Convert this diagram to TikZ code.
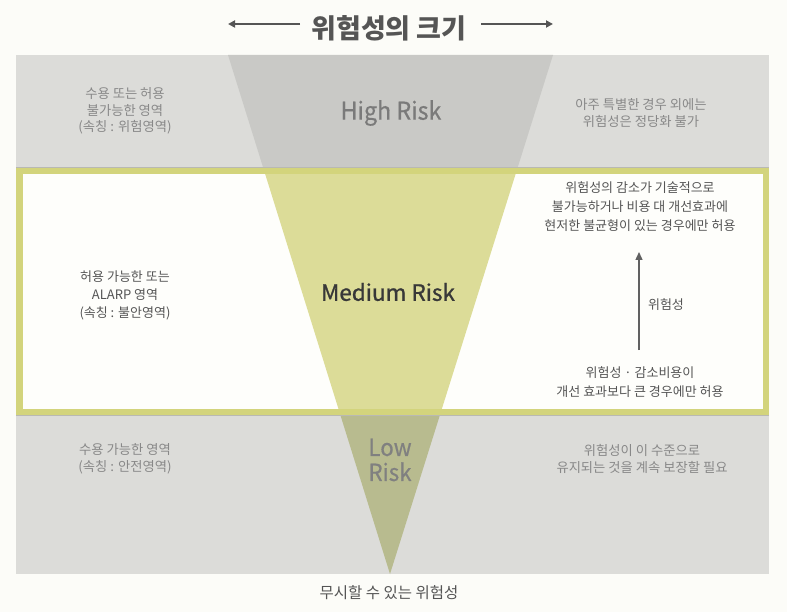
\documentclass[tikz,border=0pt]{standalone}
\usepackage{fontspec}
\setmainfont{Noto Sans CJK KR}
\newfontfamily\latinf[FakeBold=0.5,FakeStretch=0.95]{Noto Sans CJK KR}
\newfontfamily\medf[FakeBold=1.0]{Noto Sans CJK KR}
\usetikzlibrary{arrows.meta}
\definecolor{bgc}{HTML}{FCFCF8}
\definecolor{bandc}{HTML}{DCDCD9}
\definecolor{highc}{HTML}{C9C9C6}
\definecolor{greenc}{HTML}{D3D47C}
\definecolor{medc}{HTML}{DCDC98}
\definecolor{lowc}{HTML}{B8BB8F}
\definecolor{innerc}{HTML}{FEFEFB}
\definecolor{linec}{HTML}{B9B9B3}
\definecolor{grayt}{HTML}{888888}
\definecolor{darkt}{HTML}{555555}
\tikzset{
  graytxt/.style={text=grayt, align=center, inner sep=0pt, font=\fontsize{13.3}{16.5}\selectfont},
  darktxt/.style={text=darkt, align=center, inner sep=0pt, font=\fontsize{13}{18}\selectfont},
  risktxt/.style={inner sep=0pt, align=center},
  arr/.style={-{Triangle[length=7pt,width=7pt]}, line width=1.6pt, draw=darkt},
}
\begin{document}
\begin{tikzpicture}[x=1pt,y=-1pt]
\useasboundingbox (0,0) rectangle (787,612);
\fill[bgc] (0,0) rectangle (787,612);
\fill[bandc] (16,55) rectangle (769,574);
\begin{scope}
  \clip (16,55) rectangle (769,168);
  \fill[highc] (228,55) -- (553,55) -- (390,574) -- cycle;
\end{scope}
\fill[innerc] (16,168) rectangle (769,415);
\begin{scope}
  \clip (16,168) rectangle (769,415);
  \fill[medc] (228,55) -- (553,55) -- (390,574) -- cycle;
\end{scope}
\begin{scope}
  \clip (16,415) rectangle (769,574);
  \fill[lowc] (228,55) -- (553,55) -- (390,574) -- cycle;
\end{scope}
\draw[linec, line width=1pt] (16,167.5) -- (769,167.5);
\draw[linec, line width=1pt] (16,415.5) -- (769,415.5);
\draw[greenc, line width=6.5pt] (19.25,171.25) rectangle (765.75,411.75);

% title
\node[text=darkt, inner sep=0pt, font=\fontsize{27}{30}\selectfont\bfseries] (title) at (389,28) {위험성의 크기};
\coordinate (tl1) at (300,24);
\coordinate (tl2) at (228,24);
\coordinate (tr1) at (481,24);
\coordinate (tr2) at (553,24);
\draw[arr, line width=2pt] (tl1) -- (tl2);
\draw[arr, line width=2pt] (tr1) -- (tr2);

% high
\node[graytxt] (hl) at (125,111) {수용 또는 허용\\불가능한 영역\\(속칭 : 위험영역)};
\node[risktxt, text=black!52, font=\latinf\fontsize{24.5}{28}\selectfont] (high) at (391,113) {High Risk};
\node[graytxt] (hr) at (641,113) {아주 특별한 경우 외에는\\위험성은 정당화 불가};

% medium
\node[darktxt] (ml) at (125,295) {허용 가능한 또는\\ALARP 영역\\(속칭 : 불안영역)};
\node[risktxt, text=black!78, font=\medf\fontsize{22.5}{28}\selectfont] (med) at (388,292) {Medium Risk};
\node[darktxt, font=\fontsize{13}{19}\selectfont] (mrt) at (640,207) {위험성의 감소가 기술적으로\\불가능하거나 비용 대 개선효과에\\현저한 불균형이 있는 경우에만 허용};
\node[darktxt, font=\fontsize{13}{19}\selectfont] (mrb) at (640,382) {위험성 · 감소비용이\\개선 효과보다 큰 경우에만 허용};
\coordinate (va) at (639,350);
\coordinate (vb) at (639,252);
\draw[arr, line width=1.4pt, draw=black!62, -{Triangle[length=8pt,width=7pt]}] (va) -- (vb);
\node[darktxt] (vlab) at (666,305) {위험성};

% low
\node[graytxt] (ll) at (125,459) {수용 가능한 영역\\(속칭 : 안전영역)};
\node[risktxt, text=black!50, font=\latinf\fontsize{23.5}{25}\selectfont] (low) at (390,460) {Low\\Risk};
\node[graytxt] (lr) at (642,459) {위험성이 이 수준으로\\유지되는 것을 계속 보장할 필요};

\node[text=darkt, inner sep=0pt, font=\fontsize{15.5}{18}\selectfont] (neg) at (389,593) {무시할 수 있는 위험성};
\end{tikzpicture}
\end{document}
